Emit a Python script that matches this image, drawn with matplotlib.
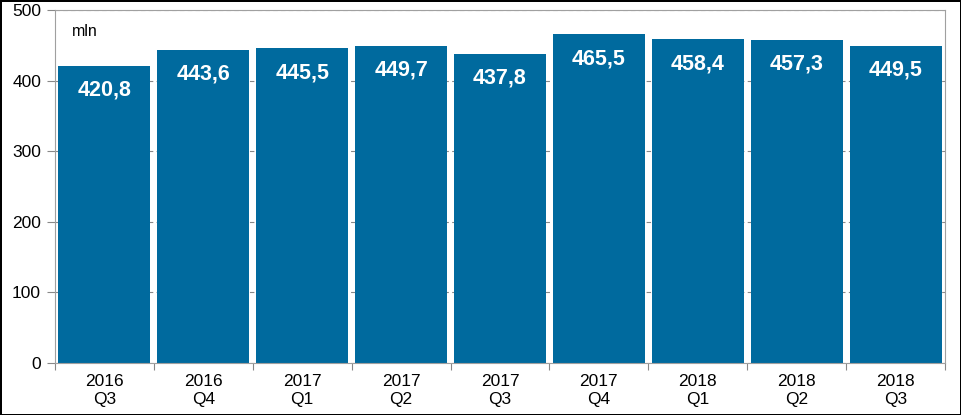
import numpy as np
import matplotlib.pyplot as plt

years = ['2016', '2016', '2017', '2017', '2017', '2017', '2018', '2018', '2018']
quarters = ['Q3', 'Q4', 'Q1', 'Q2', 'Q3', 'Q4', 'Q1', 'Q2', 'Q3']
values = [420.8, 443.6, 445.5, 449.7, 437.8, 465.5, 458.4, 457.3, 449.5]
yticks = [0, 100, 200, 300, 400, 500]


def run():
  plt.rcParams['font.family'] = ['Liberation Sans', 'DejaVu Sans']
  fig = plt.figure(figsize=(9.61, 4.15), dpi=100, edgecolor='black', linewidth=2)
  ax = fig.add_axes([55/961, 52/415, 890/961, 353/415])
  x = np.arange(len(values))
  ax.bar(x, values, width=0.93, color='#006A9E', zorder=2)
  for xi, v in zip(x, values):
    ax.annotate(f'{v:.1f}'.replace('.', ','), (xi, v), xytext=(0, -17.5),
                textcoords='offset points', ha='center', va='center',
                color='white', fontsize=15.5, fontweight='bold', zorder=3)
  ax.set_xlim(-0.5, len(values) - 0.5)
  ax.set_ylim(0, 500)
  ax.set_yticks(yticks)
  ax.set_yticklabels([str(t) for t in yticks], fontsize=12.5)
  ax.yaxis.grid(True, linestyle=(0, (4, 3)), color='#888888', linewidth=0.8, zorder=0)
  ax.set_axisbelow(True)
  # category boundaries carry the ticks, labels sit at bar centres
  ax.set_xticks(np.arange(-0.5, len(values)), minor=False)
  ax.set_xticklabels([])
  ax.set_xticks(x, minor=True)
  ax.set_xticklabels([f'{y}\n{q}' for y, q in zip(years, quarters)], minor=True,
                     fontsize=12.5, linespacing=1.2)
  ax.tick_params(axis='x', which='minor', length=0, pad=8)
  ax.tick_params(axis='x', which='major', length=5, color='#888888')
  ax.tick_params(axis='y', length=6, color='#888888', pad=4)
  for s in ax.spines.values():
    s.set_color('#a0a0a0')
  ax.text(0.019, 0.96, 'mln', transform=ax.transAxes, fontsize=11.5, va='top')
  fig.savefig('out.png', dpi=100)


if __name__ == '__main__':
  run()
